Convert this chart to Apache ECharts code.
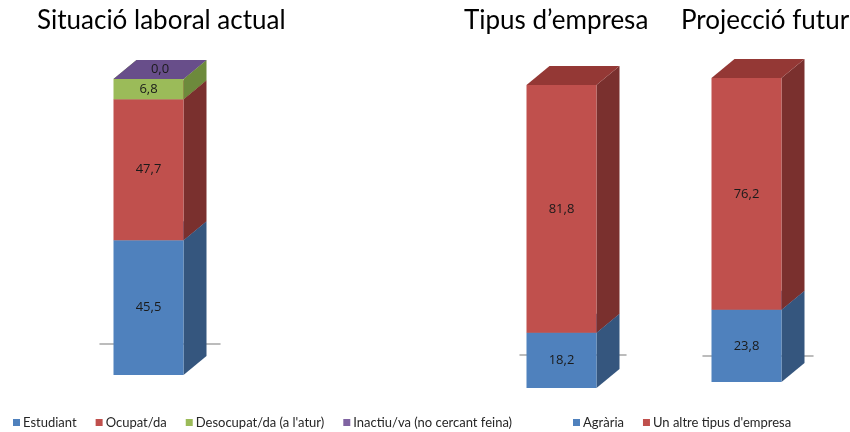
<!DOCTYPE html>
<html>
<head>
<meta charset="utf-8">
<script src="https://cdn.jsdelivr.net/npm/echarts@6/dist/echarts.min.js"></script>
<style>
  html, body { margin: 0; padding: 0; background: #fff; }
  #chart { width: 850px; height: 432px; }
</style>
</head>
<body>
<div id="chart"></div>
<script>
// Panel titles
const panelTitles = ['Situació laboral actual', 'Tipus d’empresa', 'Projecció futur'];

// Panel 1: current employment situation (%)
const situacioNames = ['Estudiant', 'Ocupat/da', "Desocupat/da (a l'atur)", 'Inactiu/va (no cercant feina)'];
const situacioValues = [45.5, 47.7, 6.8, 0.0];

// Panels 2 and 3: type of company (%)
const empresaNames = ['Agrària', "Un altre tipus d'empresa"];
const tipusValues = [18.2, 81.8];
const projeccioValues = [23.8, 76.2];

// Face colours for each segment: front, side, top
const faceColors = {
  blue:   { front: '#4F81BD', side: '#35567E', top: '#456FA3' },
  red:    { front: '#C0504D', side: '#7A302E', top: '#943835' },
  green:  { front: '#9BBB59', side: '#6D8A3C', top: '#839F4A' },
  purple: { front: '#8064A2', side: '#5A4574', top: '#684E8A' }
};
const situacioColors = [faceColors.blue, faceColors.red, faceColors.green, faceColors.purple];
const empresaColors = [faceColors.blue, faceColors.red];

// Box geometry (pixels)
const FRONT_W = 70;
const DEPTH_X = 23;
const DEPTH_Y = 19;

function fmt(v) {
  return v.toFixed(1).replace('.', ',');
}

function makeRender(colors) {
  return function (params, api) {
    const base = api.value(1);
    const val = api.value(2);
    const p0 = api.coord([0, base]);
    const p1 = api.coord([0, base + val]);
    const left = p0[0] - (FRONT_W + DEPTH_X) / 2;
    const right = left + FRONT_W;
    const yb = p0[1];
    const yt = p1[1];
    const children = [];
    if (yb - yt > 0.01) {
      children.push({
        type: 'polygon',
        shape: { points: [[right, yt], [right + DEPTH_X, yt - DEPTH_Y], [right + DEPTH_X, yb - DEPTH_Y], [right, yb]] },
        style: { fill: colors.side }
      });
      children.push({
        type: 'rect',
        shape: { x: left, y: yt, width: FRONT_W, height: yb - yt },
        style: { fill: colors.front }
      });
    }
    children.push({
      type: 'polygon',
      shape: { points: [[left, yt], [right, yt], [right + DEPTH_X, yt - DEPTH_Y], [left + DEPTH_X, yt - DEPTH_Y]] },
      style: { fill: colors.top }
    });
    let lx, ly;
    if (yb - yt > 0.01) {
      // value label on the front face
      lx = left + FRONT_W / 2;
      ly = (yt + yb) / 2;
    } else {
      // zero-height segment: label sits on the top face
      lx = left + (FRONT_W + DEPTH_X) / 2;
      ly = yt - DEPTH_Y / 2;
    }
    children.push({
      type: 'text',
      z2: 10,
      style: {
        text: fmt(val),
        x: lx,
        y: ly,
        align: 'center',
        verticalAlign: 'middle',
        fill: '#1a1a1a',
        font: '13px "Open Sans", sans-serif'
      }
    });
    return { type: 'group', children: children };
  };
}

function stackedSeries(names, values, colors, gridIndex) {
  let base = 0;
  return names.map(function (name, i) {
    const item = [0, base, values[i]];
    base += values[i];
    return {
      type: 'custom',
      name: name,
      xAxisIndex: gridIndex,
      yAxisIndex: gridIndex,
      clip: false,
      itemStyle: { color: colors[i].front },
      encode: { x: 0, y: 2 },
      renderItem: makeRender(colors[i]),
      data: [item]
    };
  });
}

const grids = [
  { left: 100, width: 120, top: 79, height: 296 },
  { left: 520, width: 106, top: 85, height: 303 },
  { left: 703, width: 110, top: 78, height: 304 }
];
const floorOffsets = [-31, -33, -26];

const legendText = { fontFamily: 'Lato', fontSize: 13, color: '#262626', padding: [0, 0, 0, -2] };

const chart = echarts.init(document.getElementById('chart'), null, { renderer: 'canvas' });

chart.setOption({
  backgroundColor: '#ffffff',
  animation: false,
  title: [
    { text: panelTitles[0], left: 32, top: 3 },
    { text: panelTitles[1], left: 459, top: 3 },
    { text: panelTitles[2], left: 676, top: 3 }
  ].map(function (t) {
    t.textStyle = { fontFamily: 'Lato', fontSize: 26, fontWeight: 'normal', color: '#000' };
    return t;
  }),
  legend: [
    {
      data: situacioNames,
      left: 8, top: 411,
      icon: 'rect', itemWidth: 7, itemHeight: 7, itemGap: 19,
      textStyle: legendText
    },
    {
      data: empresaNames,
      left: 568, top: 411,
      icon: 'rect', itemWidth: 7, itemHeight: 7, itemGap: 19,
      textStyle: legendText
    }
  ],
  grid: grids,
  xAxis: grids.map(function (g, i) {
    return {
      type: 'category',
      gridIndex: i,
      data: [''],
      offset: floorOffsets[i],
      axisLine: { show: true, lineStyle: { color: '#A6A6A6', width: 1.5 } },
      axisTick: { show: false },
      axisLabel: { show: false },
      splitLine: { show: false }
    };
  }),
  yAxis: grids.map(function (g, i) {
    return { type: 'value', gridIndex: i, min: 0, max: 100, show: false };
  }),
  series: []
    .concat(stackedSeries(situacioNames, situacioValues, situacioColors, 0))
    .concat(stackedSeries(empresaNames, tipusValues, empresaColors, 1))
    .concat(stackedSeries(empresaNames, projeccioValues, empresaColors, 2))
});
</script>
</body>
</html>
